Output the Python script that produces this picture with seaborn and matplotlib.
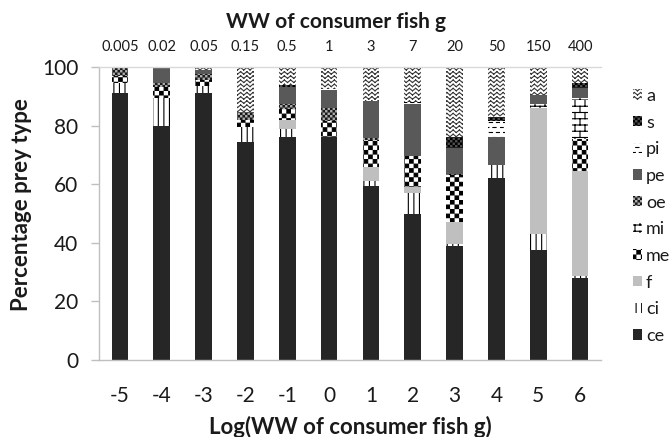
import warnings

import numpy as np
import pandas as pd
import matplotlib
matplotlib.use("Agg")
import matplotlib.pyplot as plt
import matplotlib.hatch as mhatch
from matplotlib.path import Path
from matplotlib.patches import Patch
import seaborn as sns

warnings.filterwarnings("ignore", message=".*hatch must consist.*")

# ---------------------------------------------------------------- data
log_labels = ["-5", "-4", "-3", "-2", "-1", "0", "1", "2", "3", "4", "5", "6"]
ww_labels = ["0.005", "0.02", "0.05", "0.15", "0.5", "1", "3", "7", "20", "50", "150", "400"]
prey_types = ["ce", "ci", "f", "me", "mi", "oe", "pe", "pi", "s", "a"]

ce = [91, 80, 91, 74.5, 76, 76, 59.5, 50, 39, 62, 37.5, 28]
ci = [3.5, 9.3, 2.5, 5, 2.8, 0, 1.5, 7, 0.5, 4.5, 5.5, 0.5]
f = [0, 0, 0, 0, 3, 0, 5, 2, 7.5, 0, 43, 36]
me = [2.5, 4, 2, 2.5, 4, 5.5, 9, 10.5, 16, 0, 0, 11]
mi = [0, 0, 0, 0, 0, 0, 0, 0, 0.5, 0, 1.5, 14]
oe = [3, 1.5, 2, 2.5, 1.5, 5, 1, 0, 0, 0, 0, 0]
pe = [0, 4.7, 1.5, 0, 6, 5.5, 12.5, 18, 9, 9.5, 3, 3.5]
pi = [0, 0, 0, 0, 0, 0.5, 0, 0.5, 0, 5.5, 0, 0]
s = [0, 0, 0, 0, 0.7, 0, 0, 0, 3.5, 1.5, 0, 1.5]
a = [0, 0.5, 1, 15.5, 6, 7.5, 11.5, 12, 24, 17, 9.5, 5.5]

layers = {"ce": ce, "ci": ci, "f": f, "me": me, "mi": mi,
          "oe": oe, "pe": pe, "pi": pi, "s": s, "a": a}


# ---------------------------------------------------------------- fill patterns
class CheckerHatch(mhatch.HatchPatternBase):
    """'C' coarse checkerboard, 'k' fine checkerboard."""

    def __init__(self, hatch, density):
        self.n = 22 * hatch.count("C") + 40 * hatch.count("k")
        self.cells = [(i, j) for i in range(self.n) for j in range(self.n)
                      if (i + j) % 2 == 0]
        self.num_vertices = 5 * len(self.cells)

    def set_vertices_and_codes(self, vertices, codes):
        step = 1.0 / self.n
        inset = 0.005
        for k, (i, j) in enumerate(self.cells):
            x0, x1 = i * step + inset, (i + 1) * step - inset
            y0, y1 = j * step + inset, (j + 1) * step - inset
            vertices[5 * k:5 * k + 5] = [[x0, y0], [x1, y0], [x1, y1], [x0, y1], [x0, y0]]
            codes[5 * k] = Path.MOVETO
            codes[5 * k + 1:5 * k + 4] = Path.LINETO
            codes[5 * k + 4] = Path.CLOSEPOLY


class ZigzagHatch(mhatch.HatchPatternBase):
    """'z' rows of zigzag lines."""

    def __init__(self, hatch, density):
        self.rows = 24 * hatch.count("z")
        self.periods = 16 if self.rows else 0
        self.num_vertices = 4 * self.rows * self.periods

    def set_vertices_and_codes(self, vertices, codes):
        amp = 0.3 / self.rows
        k = 0
        for r in range(self.rows):
            y = (r + 0.5) / self.rows
            for p in range(self.periods):
                x0 = p / self.periods
                xm = (p + 0.5) / self.periods
                x1 = (p + 1) / self.periods
                vertices[k:k + 4] = [[x0, y - amp], [xm, y + amp], [xm, y + amp], [x1, y - amp]]
                codes[k:k + 4] = [Path.MOVETO, Path.LINETO, Path.MOVETO, Path.LINETO]
                k += 4


class DashHatch(mhatch.HatchPatternBase):
    """'d' staggered short horizontal dashes."""

    def __init__(self, hatch, density):
        self.rows = 20 * hatch.count("d")
        self.dashes = 14 if self.rows else 0
        self.num_vertices = 2 * self.rows * self.dashes

    def set_vertices_and_codes(self, vertices, codes):
        k = 0
        for r in range(self.rows):
            y = (r + 0.5) / self.rows
            for p in range(self.dashes):
                x0 = (p + 0.5 * (r % 2)) / self.dashes
                vertices[k:k + 2] = [[x0, y], [x0 + 0.45 / self.dashes, y]]
                codes[k:k + 2] = [Path.MOVETO, Path.LINETO]
                k += 2


class BrickHatch(mhatch.HatchPatternBase):
    """'B' brick wall."""

    def __init__(self, hatch, density):
        self.rows = 16 * hatch.count("B")
        self.bricks = 10 if self.rows else 0
        self.num_vertices = 2 * self.rows + 2 * self.rows * self.bricks

    def set_vertices_and_codes(self, vertices, codes):
        k = 0
        for r in range(self.rows):
            y0 = r / self.rows
            y1 = (r + 1) / self.rows
            vertices[k:k + 2] = [[0.0, y0], [1.0, y0]]
            codes[k:k + 2] = [Path.MOVETO, Path.LINETO]
            k += 2
            for b in range(self.bricks):
                x = (b + 0.5 * (r % 2)) / self.bricks
                vertices[k:k + 2] = [[x, y0], [x, y1]]
                codes[k:k + 2] = [Path.MOVETO, Path.LINETO]
                k += 2


mhatch._hatch_types.extend([CheckerHatch, ZigzagHatch, DashHatch, BrickHatch])

styles = {
    "ce": dict(face="#262626", edge="#262626", hatch=None),
    "ci": dict(face="white", edge="black", hatch="|||"),
    "f": dict(face="#bfbfbf", edge="#bfbfbf", hatch=None),
    "me": dict(face="white", edge="black", hatch="C"),
    "mi": dict(face="white", edge="black", hatch="B"),
    "oe": dict(face="#b0b0b0", edge="#1a1a1a", hatch="k"),
    "pe": dict(face="#595959", edge="#595959", hatch=None),
    "pi": dict(face="white", edge="black", hatch="d"),
    "s": dict(face="#505050", edge="black", hatch="k"),
    "a": dict(face="white", edge="#3a3a3a", hatch="z"),
}

# ---------------------------------------------------------------- figure
sns.set_theme(style="white")
plt.rcParams["font.family"] = ["Lato", "DejaVu Sans"]
plt.rcParams["hatch.linewidth"] = 0.8
text_color = "#1a1a1a"

fig = plt.figure(figsize=(6.72, 4.37), dpi=100)
ax = fig.add_axes([99 / 672, 1 - 360 / 437, 502 / 672, 293 / 437])

# stacked bars: cumulative totals drawn from the top layer downwards
tops = np.cumsum([layers[name] for name in prey_types], axis=0)
for name, top in reversed(list(zip(prey_types, tops))):
    st = styles[name]
    n_before = len(ax.patches)
    df = pd.DataFrame({"log_ww": log_labels, "pct": top})
    sns.barplot(data=df, x="log_ww", y="pct", order=log_labels, color=st["face"],
                saturation=1, width=0.4, errorbar=None, ax=ax)
    for bar in ax.patches[n_before:]:
        bar.set_facecolor(st["face"])
        bar.set_edgecolor(st["edge"])
        bar.set_linewidth(0)
        bar.set_hatch(st["hatch"])

ax.set_xlim(-0.5, 11.5)
ax.set_ylim(0, 100)
ax.set_yticks([0, 20, 40, 60, 80, 100])

for side in ("left", "bottom"):
    ax.spines[side].set_color("#bfbfbf")
    ax.spines[side].set_linewidth(1.0)
ax.spines["top"].set_color("#d9d9d9")
ax.spines["top"].set_linewidth(1.0)
ax.spines["right"].set_visible(False)

ax.tick_params(axis="y", direction="out", length=6, width=1, color="#bfbfbf",
               labelsize=15, labelcolor=text_color, pad=9, left=True)
ax.tick_params(axis="x", length=0, labelsize=15, labelcolor=text_color, pad=19)

ax.set_xlabel("Log(WW of consumer fish g)", fontsize=16, fontweight="bold", color=text_color)
ax.xaxis.label.set_verticalalignment("center")
ax.xaxis.set_label_coords(0.5, (360 - 427) / 293)
ax.set_ylabel("Percentage prey type", fontsize=16, fontweight="bold", color=text_color)
ax.yaxis.label.set_verticalalignment("center")
ax.yaxis.set_label_coords((22 - 99) / 502, (360 - 205) / 293)

# grams scale along the top
top_axis = ax.secondary_xaxis("top")
top_axis.set_xticks(range(len(ww_labels)), labels=ww_labels)
top_axis.tick_params(length=0, labelsize=10.5, labelcolor=text_color, pad=9)
top_axis.spines["top"].set_visible(False)
fig.text(0.5, 1 - 22 / 437, "WW of consumer fish g", ha="center", va="center",
         fontsize=15, fontweight="bold", color=text_color)

handles = [Patch(facecolor=styles[n]["face"], edgecolor=styles[n]["edge"],
                 hatch=styles[n]["hatch"], linewidth=0, label=n)
           for n in reversed(prey_types)]
fig.legend(handles=handles, loc="upper left", bbox_to_anchor=(633 / 672, 1 - 88 / 437),
           frameon=False, fontsize=13, handlelength=0.5, handleheight=0.5,
           handletextpad=0.22, labelspacing=0.59, borderpad=0, borderaxespad=0,
           labelcolor=text_color)

fig.savefig("out.png", dpi=100)
